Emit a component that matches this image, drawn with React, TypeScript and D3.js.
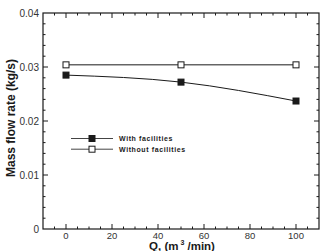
import * as d3 from "d3";
import { useEffect, useRef } from "react";

const flowRates = [0, 50, 100];
const withFacilities = [0.0285, 0.0272, 0.0237];
const withoutFacilities = [0.0304, 0.0304, 0.0304];
const xTicks = [0, 20, 40, 60, 80, 100];
const yTicks = [0, 0.01, 0.02, 0.03, 0.04];
const yTickLabels = ["0", "0.01", "0.02", "0.03", "0.04"];

export default function App() {
  const ref = useRef<SVGSVGElement>(null);
  const width = 324;
  const height = 251;

  useEffect(() => {
    const svg = d3.select(ref.current);
    svg.selectAll("*").remove();

    const left = 43, right = 319, top = 13, bottom = 229;
    const x = d3.scaleLinear().domain([-10, 110]).range([left, right]);
    const y = d3.scaleLinear().domain([0, 0.04]).range([bottom, top]);
    const ink = "#1a1a1a";

    const g = svg.append("g").attr("font-family", "Liberation Sans, Arial, sans-serif");

    // frame
    g.append("rect")
      .attr("x", left).attr("y", top)
      .attr("width", right - left).attr("height", bottom - top)
      .attr("fill", "none").attr("stroke", ink).attr("stroke-width", 1.2);

    // x ticks, inward on bottom and top
    const xMinor = d3.range(-5, 110, 5);
    xMinor.forEach((v) => {
      const len = v % 20 === 0 ? 5 : 2.5;
      g.append("line").attr("x1", x(v)).attr("x2", x(v))
        .attr("y1", bottom).attr("y2", bottom - len).attr("stroke", ink);
      g.append("line").attr("x1", x(v)).attr("x2", x(v))
        .attr("y1", top).attr("y2", top + len).attr("stroke", ink);
    });

    // y ticks, inward on left and right
    const yMinor = d3.range(0.002, 0.04, 0.002);
    yMinor.forEach((v) => {
      const major = Math.abs(v * 100 - Math.round(v * 100)) < 1e-6;
      const len = major ? 5 : 2.5;
      g.append("line").attr("x1", left).attr("x2", left + len)
        .attr("y1", y(v)).attr("y2", y(v)).attr("stroke", ink);
      g.append("line").attr("x1", right).attr("x2", right - len)
        .attr("y1", y(v)).attr("y2", y(v)).attr("stroke", ink);
    });

    g.append("g").selectAll("text").data(xTicks).join("text")
      .attr("x", (d) => x(d)).attr("y", 238.5)
      .attr("text-anchor", "middle").attr("font-size", 9.5)
      .attr("fill", "#333")
      .text((d) => d);

    g.append("g").selectAll("text").data(yTicks).join("text")
      .attr("x", 39).attr("y", (d) => y(d) + 3.5)
      .attr("text-anchor", "end").attr("font-size", 10)
      .attr("fill", "#333")
      .text((d, i) => yTickLabels[i]);

    // axis titles
    g.append("text")
      .attr("transform", `translate(15,${(top + bottom) / 2 - 3}) rotate(-90)`)
      .attr("text-anchor", "middle").attr("font-size", 12).attr("font-weight", "bold")
      .attr("fill", ink)
      .text("Mass flow rate (kg/s)");

    const xt = g.append("text")
      .attr("x", 182).attr("y", 249.5)
      .attr("text-anchor", "middle").attr("font-size", 11.5).attr("font-weight", "bold")
      .attr("fill", ink);
    xt.append("tspan").text("Q, (m");
    xt.append("tspan").attr("font-size", 7).attr("dy", -5).text(" 3");
    xt.append("tspan").attr("dy", 5).text(" /min)");

    const line = d3.line<number>()
      .x((d, i) => x(flowRates[i]))
      .y((d) => y(d))
      .curve(d3.curveNatural);

    const series = [
      { values: withoutFacilities, fill: "#fff" },
      { values: withFacilities, fill: ink },
    ];

    series.forEach((s) => {
      g.append("path").attr("d", line(s.values)).attr("fill", "none")
        .attr("stroke", ink).attr("stroke-width", 1);
      g.append("g").selectAll("rect").data(s.values).join("rect")
        .attr("x", (d, i) => x(flowRates[i]) - 3)
        .attr("y", (d) => y(d) - 3)
        .attr("width", 6).attr("height", 6)
        .attr("fill", s.fill).attr("stroke", ink).attr("stroke-width", 1);
    });

    // legend
    const legend = [
      { label: "With facilities", fill: ink },
      { label: "Without facilities", fill: "#fff" },
    ];
    legend.forEach((l, i) => {
      const ly = 138.5 + i * 10.7;
      g.append("line").attr("x1", 71).attr("x2", 113).attr("y1", ly).attr("y2", ly)
        .attr("stroke", "#444").attr("stroke-width", 1);
      g.append("rect").attr("x", 89).attr("y", ly - 3).attr("width", 6).attr("height", 6)
        .attr("fill", l.fill).attr("stroke", ink);
      g.append("text").attr("x", 119).attr("y", ly + 2.5)
        .attr("font-size", 7).attr("font-weight", "bold").attr("letter-spacing", 0.6)
        .attr("fill", ink).text(l.label);
    });
  }, []);

  return (
    <svg
      ref={ref}
      width={width}
      height={height}
      style={{ position: "absolute", left: 0, top: 0, background: "#fff" }}
    />
  );
}
